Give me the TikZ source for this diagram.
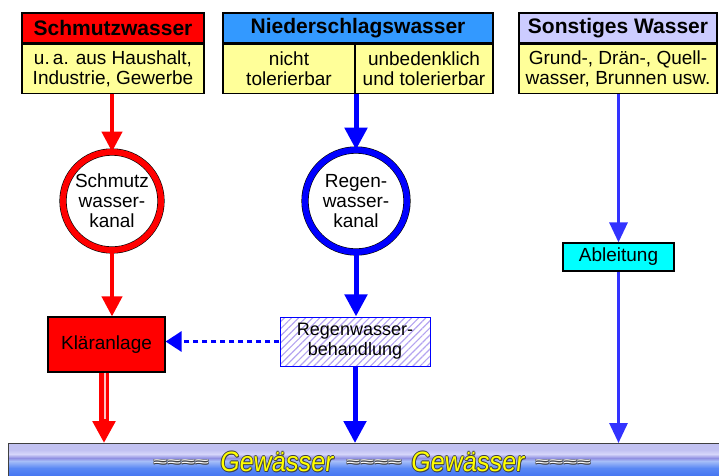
\documentclass[tikz,border=0pt]{standalone}
\usepackage{fontspec}
\setmainfont{Liberation Sans}
\newfontfamily\gwfont[FakeStretch=0.9,FakeSlant=0.12]{Liberation Sans}
\newfontfamily\wavefont[FakeStretch=2.3]{Liberation Sans}
\usetikzlibrary{arrows.meta,patterns.meta}
\definecolor{hdrblue}{HTML}{3399FF}
\definecolor{lav}{HTML}{CCCCFF}
\definecolor{lightyel}{HTML}{FFFF99}
\definecolor{pureblue}{HTML}{0000FF}
\definecolor{lblue}{HTML}{3333FF}
\definecolor{cyanbox}{HTML}{00FFFF}
\definecolor{hatch}{HTML}{B4A4F0}
\definecolor{gwA}{HTML}{C2C2F2}
\definecolor{gwB}{HTML}{D6D6FA}
\definecolor{gwC}{HTML}{9090E2}
\definecolor{gwD}{HTML}{A6BEF8}
\definecolor{gwE}{HTML}{5A88F4}
\definecolor{gwF}{HTML}{3A6CF0}
\definecolor{gwyel}{HTML}{FFFF00}
\definecolor{gwdark}{HTML}{404040}
\newcommand\bodyf{\fontsize{19}{20}\selectfont}
\newcommand\hdrf{\fontsize{21}{24}\selectfont\bfseries}
% outlined text: dark copies shifted around, coloured text on top
\newcommand\outltxt[3]{\leavevmode
  \rlap{\kern-#3\textcolor{gwdark}{#2}}%
  \rlap{\kern#3\textcolor{gwdark}{#2}}%
  \rlap{\raisebox{#3}{\textcolor{gwdark}{#2}}}%
  \rlap{\raisebox{-#3}{\textcolor{gwdark}{#2}}}%
  \rlap{\kern#3\raisebox{-#3}{\textcolor{gwdark}{#2}}}%
  \textcolor{#1}{#2}}
\tikzset{
  hdr/.style={draw=black, line width=1.2pt, minimum height=30, inner sep=0pt, font=\hdrf, text=black},
  bodybox/.style={draw=black, line width=1.2pt, fill=lightyel, minimum height=49, inner sep=0pt, font=\bodyf, align=center},
  ring/.style={circle, draw=black, line width=0.6pt, double=#1, double distance=6pt, fill=white, inner sep=0pt, font=\bodyf, align=center},
  procbox/.style={draw=black, line width=1.2pt, inner sep=0pt, font=\bodyf, align=center},
  redarr/.style={draw=red, line width=4pt, -{Triangle[length=20pt,width=20pt]}},
  bluearr/.style={draw=pureblue, line width=5pt, -{Triangle[length=22pt,width=22pt]}},
  rarr/.style={draw=lblue, line width=3pt, -{Triangle[length=20pt,width=18pt]}},
  gwtext/.style={font=\gwfont\fontsize{28}{28}\selectfont, inner sep=0pt},
  sqtext/.style={font=\wavefont\fontsize{11}{11}\selectfont\bfseries, inner sep=0pt},
}
\begin{document}
\begin{tikzpicture}[x=1pt,y=-1pt]
\useasboundingbox (0,0) rectangle (719,475);
% headers and bodies
\node[hdr, fill=red, minimum width=182] (swh) at (113,28) {Schmutzwasser};
\node[bodybox, minimum width=182, anchor=north] (swb) at (swh.south) {u.\,a. aus Haushalt,\\Industrie, Gewerbe};
\node[hdr, fill=hdrblue, minimum width=270] (nh) at (358,28) {Niederschlagswasser};
\node[bodybox, minimum width=132, anchor=north west] (nbl) at (nh.south west) {nicht\\tolerierbar};
\node[bodybox, minimum width=138, anchor=north east] (nbr) at (nh.south east) {unbedenklich\\und tolerierbar};
\node[hdr, fill=lav, minimum width=198] (sh) at (618,28) {Sonstiges Wasser};
\node[bodybox, minimum width=198, anchor=north] (sb) at (sh.south) {Grund-, Drän-, Quell-\\wasser, Brunnen usw.};
% canals
\node[ring=red, minimum size=98] (sk) at (112,201) {Schmutz\\wasser-\\kanal};
\node[ring=pureblue, minimum size=102] (rk) at (356,201) {Regen-\\wasser-\\kanal};
% process boxes
\node[procbox, fill=red, minimum width=117, minimum height=55] (kl) at (106.5,344.5) {Kläranlage};
\node[procbox, draw=pureblue, line width=0.8pt, minimum width=150, minimum height=49,
      pattern={Lines[angle=45,distance=5pt,line width=1.2pt]}, pattern color=hatch,
      font=\fontsize{18}{20}\selectfont] (rb) at (355,341.5) {Regenwasser-\\behandlung};
\node[procbox, fill=cyanbox, minimum width=111, minimum height=28] (ab) at (618.5,257) {Ableitung};
% water body bar
\fill[gwA] (8,443) rectangle (725,450);
\fill[top color=gwA, bottom color=gwB] (8,450) rectangle (725,454);
\fill[top color=gwB, bottom color=gwC] (8,454) rectangle (725,458);
\fill[top color=gwC, bottom color=gwD] (8,458) rectangle (725,461);
\fill[top color=gwD, bottom color=gwE] (8,461) rectangle (725,468);
\fill[top color=gwE, bottom color=gwF] (8,468) rectangle (725,480);
\node[draw=black!75, line width=1pt, minimum width=717, minimum height=37, inner sep=0pt, anchor=north west] (gw) at (8,443) {};
% bar text
\node[sqtext] (sq1) at (181,463) {\outltxt{white}{≈≈≈≈}{0.5pt}};
\node[sqtext] (sq2) at (374,463) {\outltxt{white}{≈≈≈≈}{0.5pt}};
\node[sqtext] (sq3) at (563,463) {\outltxt{white}{≈≈≈≈}{0.5pt}};
\node[gwtext] (gt1) at (276,462) {\outltxt{gwyel}{Gewässer}{0.8pt}};
\node[gwtext] (gt2) at (467,462) {\outltxt{gwyel}{Gewässer}{0.8pt}};
% connectors
\draw[redarr] (sk.north |- swb.south) -- (sk.north);
\draw[redarr] (sk.south) -- (sk.south |- kl.north);
\draw[draw=red, line width=10pt, -{Triangle[length=22pt,width=22pt]}] (104,0 |- kl.south) -- (104,0 |- gw.north);
\draw[draw=red!25, line width=1.6pt, shorten >=24pt] (105,0 |- kl.south) -- (105,0 |- gw.north);
\draw[bluearr] (rk.north |- nbl.south) -- (rk.north);
\draw[bluearr] (rk.south) -- (rk.south |- rb.north);
\draw[bluearr] (rb.south) -- (rb.south |- gw.north);
\draw[draw=pureblue, line width=3pt, dash pattern=on 5pt off 4pt, -{Triangle[length=16pt,width=20pt]}] (rb.west) -- (rb.west -| kl.east);
\draw[rarr] (ab.north |- sb.south) -- (ab.north);
\draw[rarr] (ab.south) -- (ab.south |- gw.north);
\end{tikzpicture}
\end{document}
